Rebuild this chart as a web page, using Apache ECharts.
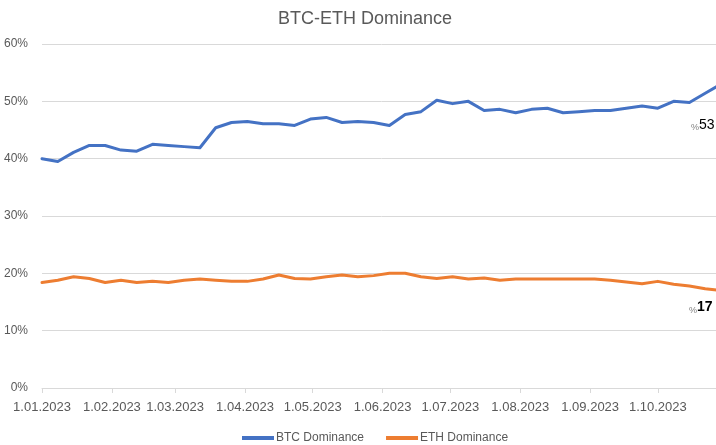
<!DOCTYPE html>
<html>
<head>
<meta charset="utf-8">
<script src="https://cdn.jsdelivr.net/npm/echarts@6/dist/echarts.min.js"></script>
<style>html,body{margin:0;padding:0;background:#fff;overflow:hidden;width:716px;height:445px}#c{width:730px;height:445px}</style>
</head>
<body>
<div id="c"></div>
<script>
const weekDates = ['2023-01-01','2023-01-08','2023-01-15','2023-01-22','2023-01-29',
  '2023-02-05','2023-02-12','2023-02-19','2023-02-26',
  '2023-03-05','2023-03-12','2023-03-19','2023-03-26',
  '2023-04-02','2023-04-09','2023-04-16','2023-04-23','2023-04-30',
  '2023-05-07','2023-05-14','2023-05-21','2023-05-28',
  '2023-06-04','2023-06-11','2023-06-18','2023-06-25',
  '2023-07-02','2023-07-09','2023-07-16','2023-07-23','2023-07-30',
  '2023-08-06','2023-08-13','2023-08-20','2023-08-27',
  '2023-09-03','2023-09-10','2023-09-17','2023-09-24',
  '2023-10-01','2023-10-08','2023-10-15','2023-10-22','2023-10-29'];
const btcDominance = [40.0,39.5,41.1,42.3,42.3,41.5,41.3,42.5,42.3,42.1,41.9,
  45.4,46.3,46.5,46.1,46.1,45.8,46.9,47.2,46.3,46.5,
  46.3,45.8,47.7,48.2,50.2,49.6,50.0,48.4,48.6,48.0,
  48.6,48.8,48.0,48.2,48.4,48.4,48.8,49.2,48.8,50.0,
  49.8,51.4,53.0];
const ethDominance = [18.4,18.8,19.4,19.1,18.4,18.8,18.4,18.6,18.4,18.8,19.0,
  18.8,18.6,18.6,19.0,19.7,19.1,19.0,19.4,19.7,19.4,
  19.6,20.0,20.0,19.4,19.1,19.4,19.0,19.2,18.8,19.0,
  19.0,19.0,19.0,19.0,19.0,18.8,18.5,18.2,18.6,18.1,
  17.8,17.3,17.0];
const seriesNames = ['BTC Dominance','ETH Dominance'];
const yTicks = [0,10,20,30,40,50,60];

const F = '"Liberation Sans",Arial,sans-serif';
const TXT = '#595959';
const DAY = 86400000;
const chart = echarts.init(document.getElementById('c'), null, {renderer:'canvas'});
function fmtDate(v){
  const d = new Date(v);
  return d.getDate() + '.' + String(d.getMonth()+1).padStart(2,'0') + '.' + d.getFullYear();
}
function pairs(vals){ return weekDates.map((d,i)=>[d, vals[i]]); }
function endLbl(bold, off){
  return {
    show:true, offset:off,
    formatter:(p)=> '{p|%}{v|' + Math.round(p.value[1]) + '}',
    rich:{
      p:{fontSize:9, color:'#7f7f7f', fontFamily:F, verticalAlign:'bottom', padding:[4,0,0,0]},
      v:{fontSize:14, color:'#000', fontFamily:F, fontWeight: bold ? 'bold' : 'normal'}
    }
  };
}
chart.setOption({
  animation:false,
  title:{text:'BTC-ETH Dominance', left:'center', top:5,
    textStyle:{fontFamily:F, fontSize:18, fontWeight:'normal', color:TXT}},
  grid:{left:42, right:9, top:44, bottom:57, containLabel:false},
  legend:{top:427, left:237, icon:'rect', itemWidth:32, itemHeight:4, itemGap:22,
    textStyle:{fontFamily:F, fontSize:12, color:TXT, padding:[0,0,0,-3]}, data:seriesNames},
  xAxis:{type:'time', min:weekDates[0], max:weekDates[weekDates.length-1],
    minInterval:28*DAY, maxInterval:31*DAY,
    axisLine:{lineStyle:{color:'#d9d9d9', width:1}},
    axisTick:{show:true, length:5, lineStyle:{color:'#d9d9d9'}},
    axisLabel:{formatter:fmtDate, color:TXT, fontFamily:F, fontSize:13, margin:13, hideOverlap:false, showMinLabel:true},
    splitLine:{show:false}},
  yAxis:{type:'value', min:yTicks[0], max:yTicks[yTicks.length-1], interval:10,
    axisLine:{show:false}, axisTick:{show:false},
    axisLabel:{formatter:'{value}%', color:TXT, fontFamily:F, fontSize:12, margin:14},
    splitLine:{lineStyle:{color:'#d9d9d9', width:1}}},
  series:[
    {name:seriesNames[0], type:'line', data:pairs(btcDominance), showSymbol:false, symbol:'none',
      lineStyle:{width:3, color:'#4472C4', join:'round', cap:'round'}, itemStyle:{color:'#4472C4'},
      endLabel:endLbl(false,[-38,41])},
    {name:seriesNames[1], type:'line', data:pairs(ethDominance), showSymbol:false, symbol:'none',
      lineStyle:{width:3, color:'#ED7D31', join:'round', cap:'round'}, itemStyle:{color:'#ED7D31'},
      endLabel:endLbl(true,[-40,17])}
  ]
});
</script>
</body>
</html>
